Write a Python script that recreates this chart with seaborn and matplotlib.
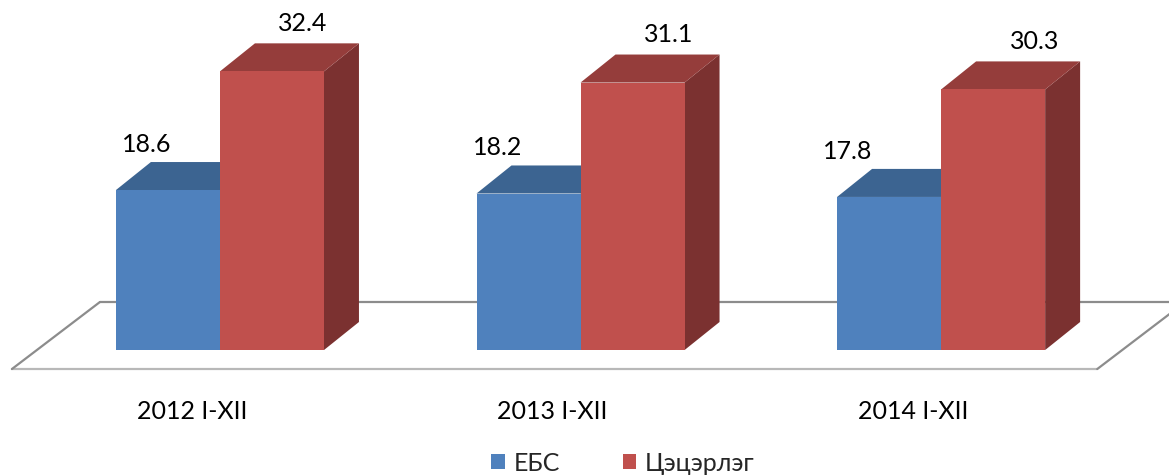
import matplotlib
matplotlib.use("Agg")
import matplotlib.pyplot as plt
import seaborn as sns
import pandas as pd
from matplotlib.patches import Polygon

# Data
periods = ["2012 I-XII", "2013 I-XII", "2014 I-XII"]
series = ["ЕБС", "Цэцэрлэг"]
ebs = [18.6, 18.2, 17.8]
tsetserleg = [32.4, 31.1, 30.3]

df = pd.DataFrame({
    "period": periods * 2,
    "series": [series[0]] * 3 + [series[1]] * 3,
    "value": ebs + tsetserleg,
})

front = {"ЕБС": "#4F81BD", "Цэцэрлэг": "#C0504D"}
top = {"ЕБС": "#3C6491", "Цэцэрлэг": "#953D3B"}
side = {"ЕБС": "#32557D", "Цэцэрлэг": "#7B3130"}

sns.set_theme(style="white")
plt.rcParams["font.family"] = ["Lato", "DejaVu Sans"]

fig = plt.figure(figsize=(11.69, 4.75), dpi=100)
ax = fig.add_axes([0, 0, 1, 1])
sns.barplot(data=df, x="period", y="value", hue="series", palette=front,
            width=0.577, saturation=1, ax=ax, linewidth=0)

ax.set_xlim(-0.610, 2.632)
ax.set_ylim(-14.53, 40.70)
ax.set_axis_off()

# depth of the 3D bars in data units
dx, dy = 0.097, 3.26
px = 1 / 360.5  # one pixel along x in data units

for k, cont in enumerate(ax.containers):
    name = series[k]
    for j, bar in enumerate(cont):
        x0 = bar.get_x()
        w = bar.get_width()
        h = bar.get_height()
        xc = x0 + w / 2
        bar.set_zorder(3 + 2 * k)
        top_face = Polygon([(x0, h), (x0 + w, h), (x0 + w + dx, h + dy), (x0 + dx, h + dy)],
                           closed=True, facecolor=top[name], edgecolor="none", zorder=2 + 2 * k)
        side_face = Polygon([(x0 + w, 0), (x0 + w + dx, dy), (x0 + w + dx, h + dy), (x0 + w, h)],
                            closed=True, facecolor=side[name], edgecolor="none", zorder=2 + 2 * k)
        ax.add_patch(side_face)
        ax.add_patch(top_face)
        # labels spread outward a little (perspective)
        if k == 0:
            lx, ly = xc - (21 + 10 * j) * px, h + 5.3
        else:
            lx, ly = xc + (31 + 5.5 * j) * px, h + 5.6
        ax.text(lx, ly, f"{h:.1f}", ha="center", va="center",
                fontsize=18, color="black", zorder=10)

# floor of the 3D plot
ax.plot([-0.577, 2.433], [-2.21, -2.21], color="#b8b8b8", lw=1.6, zorder=1)
ax.plot([-0.333, 2.70], [5.58, 5.58], color="#8c8c8c", lw=1.6, zorder=1)
ax.plot([-0.577, -0.333], [-2.21, 5.58], color="#8c8c8c", lw=1.6, zorder=1)
ax.plot([2.433, 2.677], [-2.21, 5.58], color="#8c8c8c", lw=1.6, zorder=1)

# category labels
for i, p in enumerate(periods):
    ax.text(i - 0.078, -7.2, p, ha="center", va="center", fontsize=18, color="black")

handles, labels = ax.get_legend_handles_labels()
ax.legend(handles, labels, loc="center", bbox_to_anchor=(0.533, 0.025), ncol=2,
          frameon=False, fontsize=18, handlelength=0.55, handleheight=0.55,
          handletextpad=0.35, columnspacing=2.5, borderpad=0)

fig.savefig("out.png", dpi=100)
